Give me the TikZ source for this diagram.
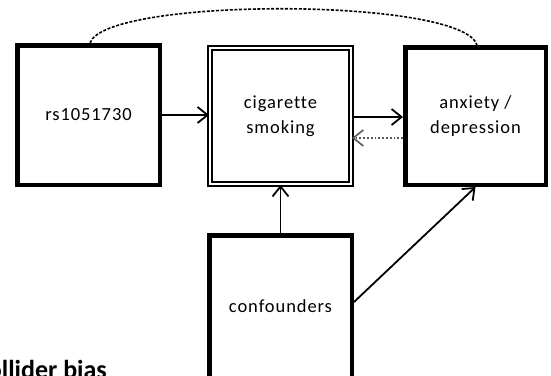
\documentclass[tikz,border=0pt]{standalone}
\usepackage{fontspec}
\newfontfamily\boxfont[LetterSpace=5,Ligatures=NoCommon]{Carlito}
\newfontfamily\titlefont{Carlito}
\usetikzlibrary{arrows.meta,calc}
\tikzset{
  thickbox/.style={draw, line width=4.5pt, inner sep=0pt, align=center,
    font=\boxfont\fontsize{18.5}{25}\selectfont},
  dblbox/.style={draw, double, line width=1.6pt, double distance=2.4pt, inner sep=0pt, align=center,
    font=\boxfont\fontsize{18.5}{25}\selectfont},
  arr/.style={line width=1.8pt, -{Straight Barb[length=10pt,width=16pt,line width=1.8pt]}},
  backarr/.style={line width=1.8pt, gray!70!black, dotted, -{Straight Barb[length=10pt,width=16pt,line width=1.6pt,gray!70!black]}},
  arcline/.style={line width=1.6pt, dash pattern=on 3pt off 1.6pt}
}
\begin{document}
\begin{tikzpicture}[x=1pt,y=-1pt]
\useasboundingbox[fill=white] (0,0) rectangle (551,375);
\node[thickbox, minimum width=142.5pt, minimum height=139.5pt] (rs) at (88.5,115) {rs1051730};
\node[dblbox, minimum width=141.5pt, minimum height=136.5pt] (cig) at (280.5,116) {cigarette\\smoking};
\node[thickbox, minimum width=140.5pt, minimum height=137.5pt] (anx) at (475.5,116) {anxiety /\\depression};
\node[thickbox, minimum width=142.5pt, minimum height=142.5pt] (conf) at (280.5,306.5) {confounders};
\node[anchor=base east, inner sep=0pt, font=\titlefont\bfseries\fontsize{26}{30}\selectfont] (title) at (107,378) {collider bias};

\draw[arr] (rs.east) -- (rs.east -| cig.west);
\draw[arr] ([yshift=-1pt]cig.east) -- ([yshift=-1pt]cig.east -| anx.west);
\draw[backarr] ([yshift=-22pt]anx.west) -- ([yshift=-22pt]anx.west -| cig.east);
\draw[arr] (conf.north) -- (cig.south);
\draw[arr] ([yshift=4.5pt]conf.east) -- (anx.south);
\draw[arcline] (rs.north -| 90,0) .. controls (105,-3) and (462,-3) .. (anx.north -| 477,0);
\end{tikzpicture}
\end{document}
